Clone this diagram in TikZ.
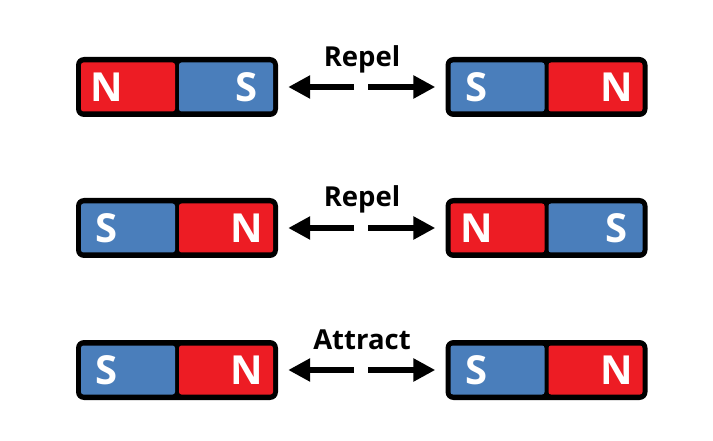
\documentclass[tikz,border=0pt]{standalone}
\usepackage{fontspec}
\setmainfont{Open Sans}
\usetikzlibrary{arrows.meta}
\definecolor{magred}{HTML}{ED1C24}
\definecolor{magblue}{HTML}{4A7EBB}
\tikzset{
  magbody/.style={fill=black, rounded corners=8pt, minimum width=202pt, minimum height=60pt, inner sep=0pt, draw=none},
  pole/.style={rounded corners=2.5pt, minimum width=94pt, minimum height=49pt, inner sep=0pt, draw=none},
  polelabel/.style={text=white, font=\fontsize{40}{40}\selectfont\bfseries, anchor=base, inner sep=0pt},
  forcelabel/.style={font=\fontsize{27.5}{27.5}\selectfont\bfseries, anchor=base, inner sep=0pt},
  forcearrow/.style={line width=6pt, -{Triangle[width=22pt,length=22pt]}, shorten >=10pt},
}
% name, x, y, left colour, left letter, right colour, right letter
\newcommand\mymagnet[7]{%
  \node[magbody] (#1) at (#2,#3) {};
  \node[pole, fill=#4] (#1-l) at ([xshift=-49pt]#1.center) {};
  \node[pole, fill=#6] (#1-r) at ([xshift=49pt]#1.center) {};
  \node[polelabel] (#1-ll) at ([xshift=-70pt,yshift=-14.5pt]#1.center) {#5};
  \node[polelabel] (#1-rl) at ([xshift=70pt,yshift=-14.5pt]#1.center) {#7};
}
\begin{document}
\begin{tikzpicture}[x=1pt,y=-1pt]
\fill[white] (0,0) rectangle (713,441);
\useasboundingbox (0,0) rectangle (713,441);

% Row 1
\mymagnet{ma}{177}{87}{magred}{N}{magblue}{S}
\mymagnet{mb}{546.5}{87}{magblue}{S}{magred}{N}
\coordinate (a1) at (354,87);
\coordinate (a2) at (368,87);
\draw[forcearrow] (a1) -- (ma.east);
\draw[forcearrow] (a2) -- (mb.west);
\node[forcelabel] (la) at (362,67) {Repel};

% Row 2
\mymagnet{mc}{177}{228}{magblue}{S}{magred}{N}
\mymagnet{md}{546.5}{228}{magred}{N}{magblue}{S}
\coordinate (b1) at (354,228);
\coordinate (b2) at (368,228);
\draw[forcearrow] (b1) -- (mc.east);
\draw[forcearrow] (b2) -- (md.west);
\node[forcelabel] (lb) at (362,207) {Repel};

% Row 3
\mymagnet{me}{177}{370}{magblue}{S}{magred}{N}
\mymagnet{mf}{546.5}{370}{magblue}{S}{magred}{N}
\coordinate (c1) at (354,370);
\coordinate (c2) at (368,370);
\draw[forcearrow] (c1) -- (me.east);
\draw[forcearrow] (c2) -- (mf.west);
\node[forcelabel] (lc) at (362,349) {Attract};
\end{tikzpicture}
\end{document}
